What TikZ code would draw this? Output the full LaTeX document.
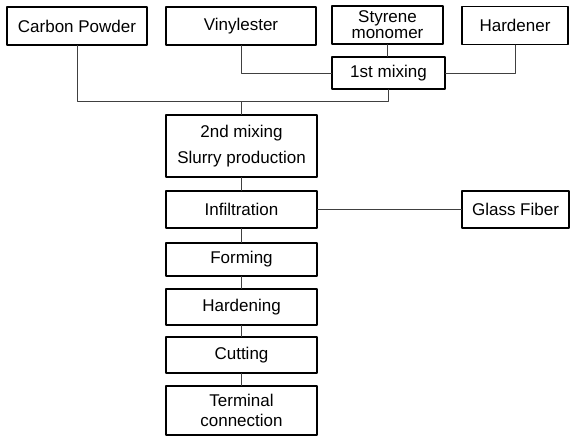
\documentclass[tikz,border=0pt]{standalone}
\usepackage{fontspec}
\setmainfont{Liberation Sans}
\usetikzlibrary{positioning}
\tikzset{
    every picture/.style={line cap=round,line join=round},
    srcbox/.style={draw=black,line width=1.2pt,minimum height=38pt,inner sep=0pt,
      align=center,font=\fontsize{17}{20}\selectfont},
    stepbox/.style={srcbox,minimum width=151pt},
    link/.style={draw=black!75,line width=0.8pt}
}
\begin{document}
\begin{tikzpicture}[x=1pt,y=-1pt]
  \useasboundingbox (0,0) rectangle (570,437);
  % raw materials
  \node[srcbox,minimum width=140pt] (carbon) at (77,26) {Carbon Powder};
  \node[srcbox,minimum width=150pt] (vinyl) at (241,26) {Vinylester};
  \node[srcbox,minimum width=111pt,font=\fontsize{17}{16}\selectfont] (styrene) at (387.5,25) {Styrene\\monomer};
  \node[srcbox,minimum width=106pt] (hardener) at (515,25.5) {Hardener};
  \node[srcbox,minimum width=113pt,minimum height=32pt] (mixA) at (388.5,73) {1st mixing};
  % process chain
  \foreach \name/\y/\h/\txt in {mixB/146/62/{2nd mixing\\[6pt]Slurry production},
      infil/209.5/37/Infiltration,form/259.5/33/Forming,hardening/307/36/Hardening,
      cut/355/36/Cutting,term/410.5/49/{Terminal\\connection}}
    {\node[stepbox,minimum height=\h pt] (\name) at (241.5,\y) {\txt};}
  \node[srcbox,minimum width=107pt,minimum height=37pt] (glass) at (515.5,209.5) {Glass Fiber};
  % connectors
  \coordinate (join) at (241.5,101);
  \draw[link] (carbon.south) |- (join) -- (mixB.north);
  \draw[link] (mixA.south) |- (join);
  \draw[link] (vinyl.south) |- (mixA.west);
  \draw[link] (hardener.south) |- (mixA.east);
  \draw[link] (styrene.south) -- (styrene.south |- mixA.north);
  \draw[link] (infil.east) -- (glass.west);
  \foreach \a/\b in {mixB/infil,infil/form,form/hardening,hardening/cut,cut/term}
    {\draw[link] (\a) -- (\b);}
\end{tikzpicture}
\end{document}
